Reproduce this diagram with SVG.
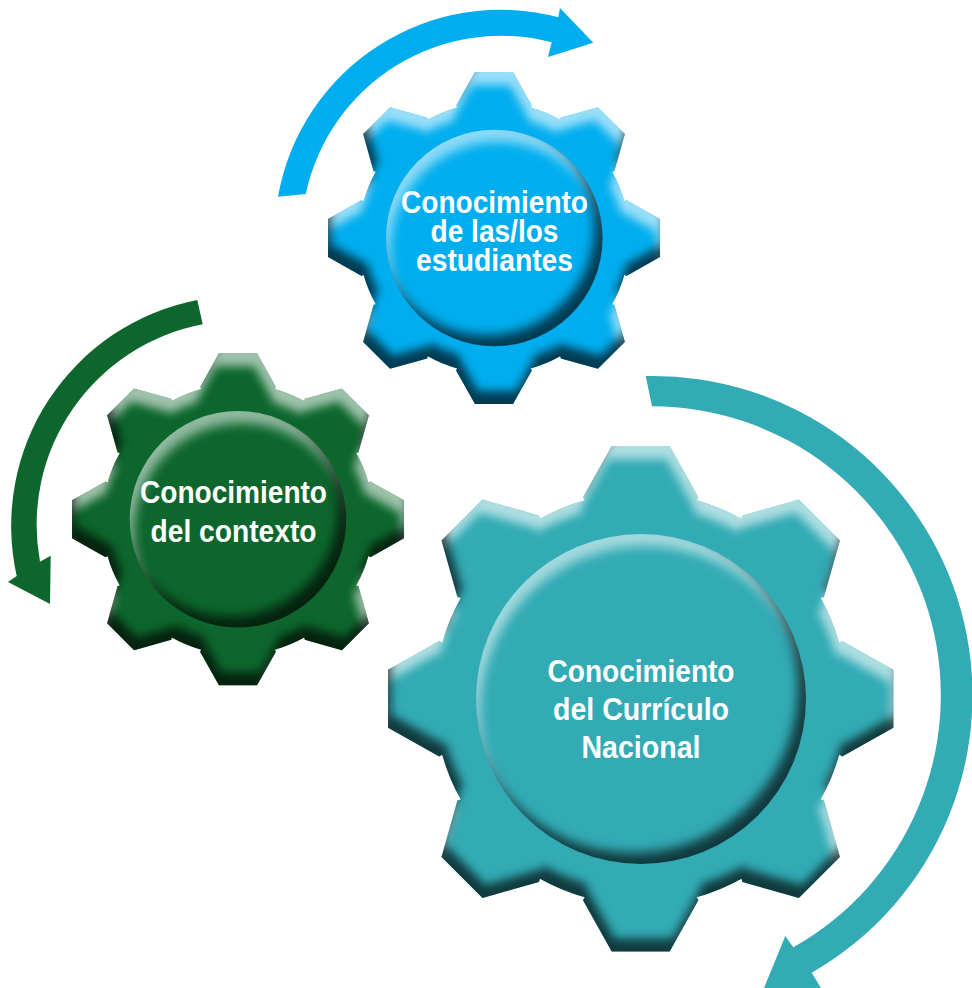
<svg xmlns="http://www.w3.org/2000/svg" width="972" height="988" viewBox="0 0 972 988">
  <style>
    .gear { filter: url(#bevelGear); }
    .disc { filter: url(#bevelDisc); }
    .label { font-family: "Liberation Sans", Arial, sans-serif; font-weight: 700; font-size: 31px; fill: #ffffff; text-anchor: middle; }
    .blue { fill: #00aeef; }
    .green { fill: #0d672d; }
    .teal { fill: #32abb5; }
  </style>
  <defs>
    <filter id="bevelGear" filterUnits="userSpaceOnUse" x="0" y="0" width="972" height="988" color-interpolation-filters="sRGB">
      <feGaussianBlur in="SourceAlpha" stdDeviation="5" result="b"/>
      <feOffset in="b" dx="-3" dy="13" result="lo"/>
      <feComposite in="SourceAlpha" in2="lo" operator="out" result="lm"/>
      <feFlood flood-color="#ffffff" flood-opacity="0.6"/>
      <feComposite in2="lm" operator="in" result="light"/>
      <feOffset in="b" dx="3" dy="-13" result="do"/>
      <feComposite in="SourceAlpha" in2="do" operator="out" result="dm"/>
      <feFlood flood-color="#000000" flood-opacity="0.66"/>
      <feComposite in2="dm" operator="in" result="dark"/>
      <feMerge>
        <feMergeNode in="SourceGraphic"/>
        <feMergeNode in="light"/>
        <feMergeNode in="dark"/>
      </feMerge>
    </filter>
    <filter id="bevelDisc" filterUnits="userSpaceOnUse" x="0" y="0" width="972" height="988" color-interpolation-filters="sRGB">
      <feGaussianBlur in="SourceAlpha" stdDeviation="5.5" result="b"/>
      <feOffset in="b" dx="4" dy="12" result="lo"/>
      <feComposite in="SourceAlpha" in2="lo" operator="out" result="lm"/>
      <feFlood flood-color="#ffffff" flood-opacity="0.55"/>
      <feComposite in2="lm" operator="in" result="light"/>
      <feOffset in="b" dx="-8" dy="-11" result="do"/>
      <feComposite in="SourceAlpha" in2="do" operator="out" result="dm"/>
      <feFlood flood-color="#000000" flood-opacity="0.66"/>
      <feComposite in2="dm" operator="in" result="dark"/>
      <feMerge>
        <feMergeNode in="SourceGraphic"/>
        <feMergeNode in="light"/>
        <feMergeNode in="dark"/>
      </feMerge>
    </filter>
    <path id="gearShape" d="M-29,-252.7 L29,-252.7 L57.7,-201.5 L56,-198.5 A206,206 0 0 1 100.8,-180 L101.7,-183.3 L158.2,-199.2 L199.2,-158.2 L183.3,-101.7 L180,-100.8 A206,206 0 0 1 198.5,-56 L201.5,-57.7 L252.7,-29 L252.7,29 L201.5,57.7 L198.5,56 A206,206 0 0 1 180,100.8 L183.3,101.7 L199.2,158.2 L158.2,199.2 L101.7,183.3 L100.8,180 A206,206 0 0 1 56,198.5 L57.7,201.5 L29,252.7 L-29,252.7 L-57.7,201.5 L-56,198.5 A206,206 0 0 1 -100.8,180 L-101.7,183.3 L-158.2,199.2 L-199.2,158.2 L-183.3,101.7 L-180,100.8 A206,206 0 0 1 -198.5,56 L-201.5,57.7 L-252.7,29 L-252.7,-29 L-201.5,-57.7 L-198.5,-56 A206,206 0 0 1 -180,-100.8 L-183.3,-101.7 L-199.2,-158.2 L-158.2,-199.2 L-101.7,-183.3 L-100.8,-180 A206,206 0 0 1 -56,-198.5 L-57.7,-201.5 Z"/>
  </defs>

  <g id="connectors">
    <path id="arrow-blue" class="blue" d="M278,196.7 A226,226 0 0 1 558.3,17.3 L560,8 L593.3,42.7 L548,57 L551.7,42.3 A200,200 0 0 0 305.7,194 Z"/>
    <path id="arrow-green" class="green" d="M197.3,300 A230,230 0 0 0 16.7,576 L8,582 L50,604 L50.7,555.7 L40,561.7 A204,204 0 0 1 202.7,324.3 Z"/>
    <path id="arrow-teal" class="teal" d="M645.7,376 A319.5,319.5 0 0 1 811.7,972.7 L821,988 L764,988 L785.3,936 L793.3,947.3 A289,289 0 0 0 652,406.3 Z"/>
  </g>

  <g id="node-estudiantes">
    <g class="gear"><use href="#gearShape" class="blue" transform="translate(494 238) scale(0.657)"/></g>
    <circle class="blue disc" cx="494.3" cy="238" r="108.3"/>
    <text class="label" x="494.5" y="213" textLength="187" lengthAdjust="spacingAndGlyphs">Conocimiento</text>
    <text class="label" x="494.5" y="242" textLength="128" lengthAdjust="spacingAndGlyphs">de las/los</text>
    <text class="label" x="494.5" y="271" textLength="157" lengthAdjust="spacingAndGlyphs">estudiantes</text>
  </g>

  <g id="node-contexto">
    <g class="gear"><use href="#gearShape" class="green" transform="translate(238 519.3) scale(0.657)"/></g>
    <circle class="green disc" cx="238" cy="519.3" r="108.3"/>
    <text class="label" x="233.5" y="503" textLength="187" lengthAdjust="spacingAndGlyphs">Conocimiento</text>
    <text class="label" x="233.5" y="542" textLength="166" lengthAdjust="spacingAndGlyphs">del contexto</text>
  </g>

  <g id="node-curriculo">
    <g class="gear"><use href="#gearShape" class="teal" transform="translate(640.7 698.7)"/></g>
    <circle class="teal disc" cx="641" cy="699" r="165"/>
    <text class="label" x="641" y="682" textLength="187" lengthAdjust="spacingAndGlyphs">Conocimiento</text>
    <text class="label" x="641" y="720" textLength="176" lengthAdjust="spacingAndGlyphs">del Currículo</text>
    <text class="label" x="641" y="758" textLength="119" lengthAdjust="spacingAndGlyphs">Nacional</text>
  </g>
</svg>
